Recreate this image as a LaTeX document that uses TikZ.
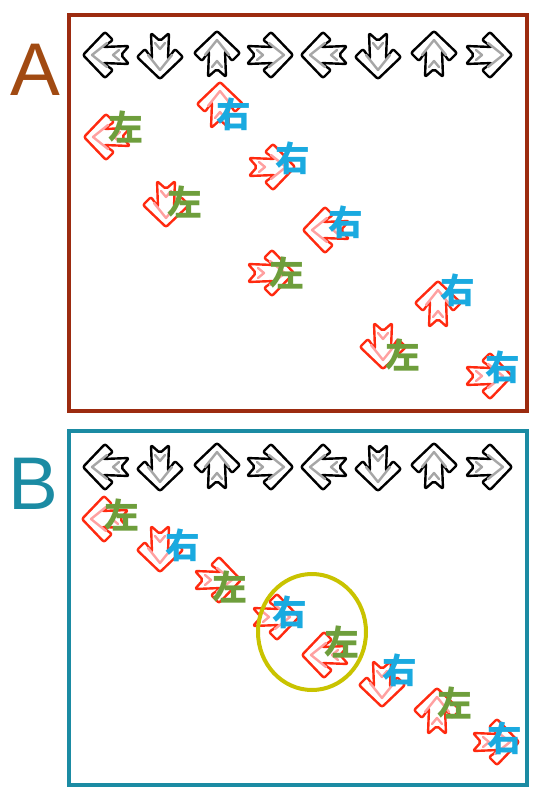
\documentclass[tikz,border=0pt]{standalone}
\usepackage{fontspec}
\setsansfont{Liberation Sans}
\newfontfamily\cjk{Noto Sans CJK SC}
\definecolor{frameA}{HTML}{9C2B10}
\definecolor{letterA}{HTML}{A14A12}
\definecolor{frameB}{HTML}{1B8BA3}
\definecolor{zuogreen}{HTML}{6E9E3C}
\definecolor{youblue}{HTML}{1AAAE0}
\definecolor{notered}{HTML}{FF2A10}
\definecolor{notepink}{HTML}{FFA0A0}
\definecolor{ringyellow}{HTML}{C9C300}

\begin{document}
\begin{tikzpicture}[x=0.75pt, y=-0.75pt,
  pics/ddr/.style 2 args={code={
    \draw[draw=#1, fill=white, line width=1.8pt, rounded corners=1.5pt, line join=round]
      (-24,0) -- (-2,-23) -- (6,-15) -- (-4,-8) -- (22,-9) -- (14,0) -- (22,9)
      -- (-4,8) -- (6,15) -- (-2,23) -- cycle;
    \draw[draw=#2, line width=1.8pt, line cap=round, line join=round]
      (0,-12) -- (-15,0) -- (0,12) (12,-5) -- (6,0) -- (12,5);}},
  frame/.style={line width=2.3pt},
  letter/.style={font=\sffamily\fontsize{56}{56}\selectfont},
  zuo/.style={text=zuogreen, font=\cjk\bfseries\fontsize{26}{26}\selectfont, inner sep=0pt},
  you/.style={text=youblue, font=\cjk\bfseries\fontsize{26}{26}\selectfont, inner sep=0pt}]
\useasboundingbox (0,0) rectangle (544,800);

% panels
\draw[frame, draw=frameA] (69,15) rectangle (527,411);
\draw[frame, draw=frameB] (69,431) rectangle (527,785);
\node[letter, text=letterA] (labA) at (35,70) {A};
\node[letter, text=frameB] (labB) at (33,484) {B};

% receptors
\foreach \x/\r in {107/0,160/90,217/-90,269/180,325/0,378/90,434/-90,488/180}{
  \pic[rotate=\r] at (\x,55) {ddr={black}{black!35}};
  \pic[rotate=\r] at (\x,467) {ddr={black}{black!35}};
}

% notes A
\foreach \x/\y/\r in {108/137/0,220/106/-90,271/167/180,166/203/90,327/230/0,
                      270/273/180,438/305/-90,383/345/90,488/376/180}
  \pic[rotate=\r] at (\x,\y) {ddr={notered}{notepink}};
\node[zuo] (a1) at (126,127) {左};
\node[you] (a2) at (234,114) {右};
\node[you] (a3) at (293,158) {右};
\node[zuo] (a4) at (185,202) {左};
\node[you] (a5) at (346,222) {右};
\node[zuo] (a6) at (287,273) {左};
\node[you] (a7) at (458,290) {右};
\node[zuo] (a8) at (403,355) {左};
\node[you] (a9) at (503,367) {右};

% notes B
\foreach \x/\y/\r in {106/519/0,160/548/90,217/580/180,275/617/180,326/655/0,
                      382/683/90,437/712/-90,495/742/180}
  \pic[rotate=\r] at (\x,\y) {ddr={notered}{notepink}};
\node[zuo] (b1) at (122,515) {左};
\node[you] (b2) at (183,545) {右};
\node[zuo] (b3) at (230,587) {左};
\node[you] (b4) at (290,612) {右};
\node[zuo] (b5) at (342,642) {左};
\node[you] (b6) at (400,670) {右};
\node[zuo] (b7) at (455,703) {左};
\node[you] (b8) at (505,738) {右};

\draw[ringyellow, line width=3pt] (312,632) ellipse [x radius=54, y radius=58];
\end{tikzpicture}
\end{document}
